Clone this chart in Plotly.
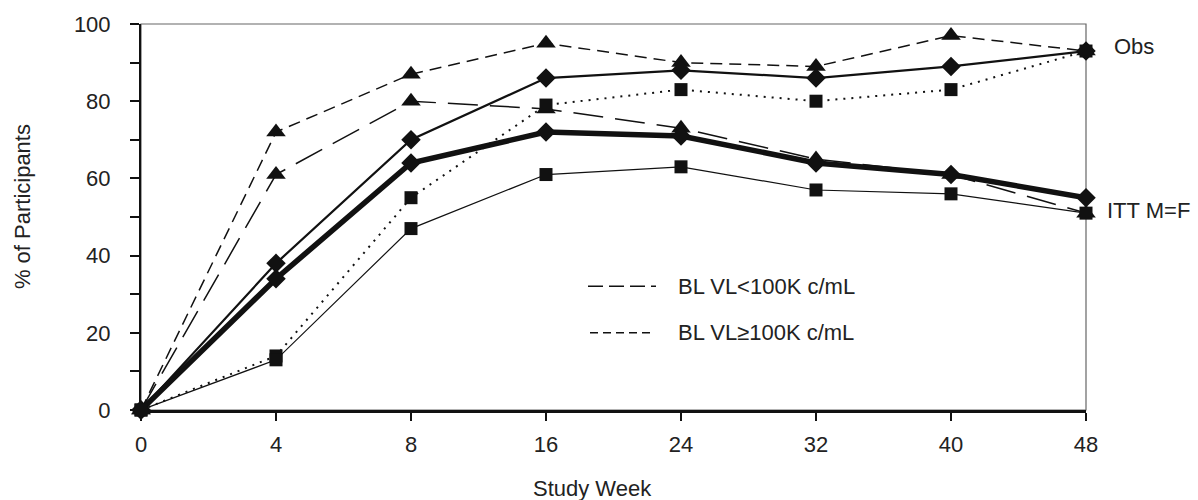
import plotly.graph_objects as go

weeks = ["0", "4", "8", "16", "24", "32", "40", "48"]
obs_tri = [0, 72, 87, 95, 90, 89, 97, 93]
itt_tri = [0, 61, 80, 78, 73, 65, 61, 51]
obs_all = [0, 38, 70, 86, 88, 86, 89, 93]
itt_all = [0, 34, 64, 72, 71, 64, 61, 55]
obs_sq = [0, 14, 55, 79, 83, 80, 83, 93]
itt_sq = [0, 13, 47, 61, 63, 57, 56, 51]

FONT = "Liberation Sans, Arial, sans-serif"
TXT = "#222222"
BLK = "#111111"

L, R, T, B = 141, 112, 20, 90
W, H = 1198, 500
PW, PH = W - L - R, H - T - B


def px(x):
    return (x - L) / PW


def py(y):
    return (H - B - y) / PH


fig = go.Figure()

series = [
    (obs_tri, "12px,7px", 1.5, "triangle-up", 17),
    (itt_tri, "30px,12px", 1.5, "triangle-up", 17),
    (obs_all, "solid", 2.2, "diamond", 15),
    (itt_all, "solid", 5.5, "diamond", 15),
    (obs_sq, "2px,6px", 2, "square", 13),
    (itt_sq, "solid", 1.2, "square", 13),
]
for vals, dash, w, sym, sz in series:
    fig.add_trace(go.Scatter(
        x=weeks, y=vals, mode="lines+markers",
        line=dict(color=BLK, width=w, dash=dash),
        marker=dict(symbol=sym, size=sz, color=BLK),
        cliponaxis=False, showlegend=False,
    ))

fig.update_layout(
    width=W, height=H,
    margin=dict(l=L, r=R, t=T, b=B),
    plot_bgcolor="white", paper_bgcolor="white",
    font=dict(family=FONT, size=22, color=TXT),
    showlegend=False,
)
fig.update_xaxes(
    type="category", range=[0, 7], showgrid=False, zeroline=False,
    showline=True, linecolor=BLK, linewidth=2.5,
    ticks="outside", ticklen=8, tickwidth=1.5, tickcolor=BLK,
    tickfont=dict(size=22, color=TXT), ticklabelstandoff=5,
)
fig.update_yaxes(
    range=[0, 100], tickvals=[0, 20, 40, 60, 80, 100], showgrid=False, zeroline=False,
    showline=True, linecolor=BLK, linewidth=2,
    ticks="outside", ticklen=9, tickwidth=1.5, tickcolor=BLK,
    minor=dict(dtick=10, ticks="outside", ticklen=9, tickwidth=1.5, tickcolor=BLK),
    tickfont=dict(size=22, color=TXT), ticklabelstandoff=15,
)

# frame top/right
fig.add_shape(type="rect", xref="paper", yref="paper", x0=0, x1=1, y0=0, y1=1,
              line=dict(color="#666666", width=1.2), layer="below")

# legend samples
fig.add_shape(type="line", xref="paper", yref="paper", x0=px(588), x1=px(656),
              y0=py(285), y1=py(285), line=dict(color=BLK, width=1.5, dash="15px,6px"))
fig.add_shape(type="line", xref="paper", yref="paper", x0=px(590), x1=px(652),
              y0=py(332), y1=py(332), line=dict(color=BLK, width=1.5, dash="8px,5px"))

ann = [
    ("BL VL<100K c/mL", 676, 285, "left", 0),
    ("BL VL\u2265100K c/mL", 676, 332, "left", 0),
    ("Obs", 1112, 43, "left", 0),
    ("ITT M=F", 1105, 208, "left", 0),
    ("Study Week", 592, 489, "center", 0),
    ("% of Participants", 22, 205, "center", -90),
]
for text, x, y, xa, ang in ann:
    fig.add_annotation(text=text, xref="paper", yref="paper", x=px(x), y=py(y),
                       xanchor=xa, yanchor="middle", showarrow=False, textangle=ang,
                       font=dict(family=FONT, size=22, color=TXT))

fig.write_html("out.html")
